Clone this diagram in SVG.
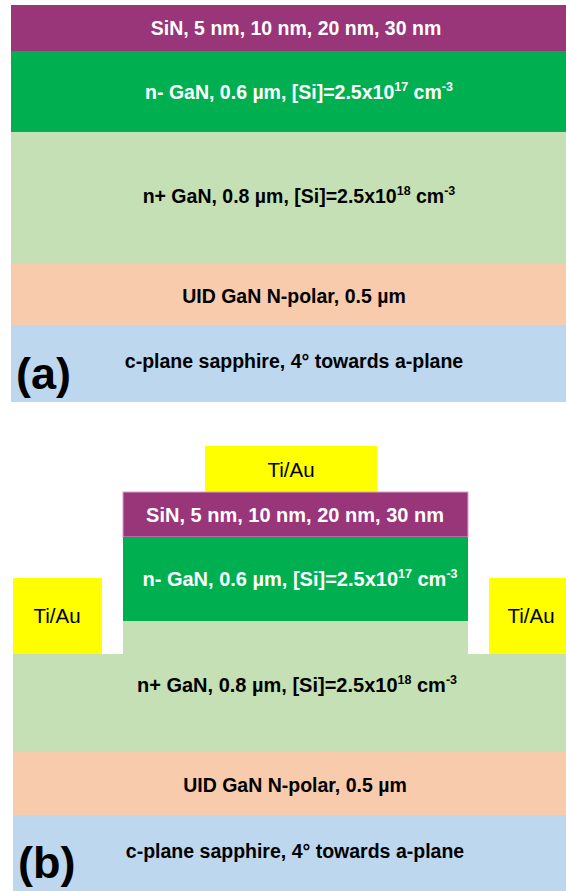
<svg xmlns="http://www.w3.org/2000/svg" width="566" height="891" viewBox="0 0 566 891">
  <style>
    .sin { fill: #993579; }
    .nminus { fill: #00B050; }
    .nplus { fill: #C5E0B4; }
    .uid { fill: #F8CBAD; }
    .sapph { fill: #BDD7EE; }
    .metal { fill: #FFFF00; }
    .lbl { font-family: "Liberation Sans", Arial, sans-serif; font-weight: bold; font-size: 19.5px; text-anchor: middle; }
    .lblb { font-size: 20px; }
    .white { fill: #FFFFFF; }
    .black { fill: #000000; }
    .metal-lbl { font-family: "Liberation Sans", Arial, sans-serif; font-size: 20.5px; text-anchor: middle; fill: #000000; }
    .tag { font-family: "Liberation Sans", Arial, sans-serif; font-weight: bold; font-size: 45px; fill: #000000; }
    .sup { font-size: 12.5px; }
  </style>
  <rect width="566" height="891" fill="#FFFFFF"/>

  <!-- (a) planar epitaxial stack -->
  <g id="a-sin">
    <rect class="sin" x="11" y="5" width="555" height="46"/>
    <text class="lbl white" x="296" y="35">SiN, 5 nm, 10 nm, 20 nm, 30 nm</text>
  </g>
  <g id="a-nminus">
    <rect class="nminus" x="11" y="51" width="555" height="81"/>
    <text class="lbl white" x="299" y="99">n- GaN, 0.6 µm, [Si]=2.5x10<tspan class="sup" dy="-8">17</tspan><tspan dy="8"> cm</tspan><tspan class="sup" dy="-8">-3</tspan></text>
  </g>
  <g id="a-nplus">
    <rect class="nplus" x="11" y="132" width="555" height="132"/>
    <text class="lbl black" x="299" y="203">n+ GaN, 0.8 µm, [Si]=2.5x10<tspan class="sup" dy="-8">18</tspan><tspan dy="8"> cm</tspan><tspan class="sup" dy="-8">-3</tspan></text>
  </g>
  <g id="a-uid">
    <rect class="uid" x="11" y="264" width="555" height="61"/>
    <text class="lbl black" x="294" y="303">UID GaN N-polar, 0.5 µm</text>
  </g>
  <g id="a-sapphire">
    <rect class="sapph" x="11" y="325" width="555" height="77"/>
    <text class="lbl black" x="294" y="368">c-plane sapphire, 4° towards a-plane</text>
    <text class="tag" x="16" y="389">(a)</text>
  </g>

  <!-- (b) mesa device with Ti/Au contacts -->
  <g id="b-gate">
    <rect class="metal" x="205" y="446" width="172" height="46"/>
    <text class="metal-lbl" x="291" y="477">Ti/Au</text>
  </g>
  <g id="b-sin">
    <rect class="sin" x="123" y="492" width="345" height="45" stroke="#D9A3C9" stroke-width="1"/>
    <text class="lbl lblb white" x="295" y="522">SiN, 5 nm, 10 nm, 20 nm, 30 nm</text>
  </g>
  <g id="b-nminus">
    <rect class="nminus" x="123" y="537" width="345" height="84"/>
    <text class="lbl lblb white" x="300" y="586">n- GaN, 0.6 µm, [Si]=2.5x10<tspan class="sup" dy="-8">17</tspan><tspan dy="8"> cm</tspan><tspan class="sup" dy="-8">-3</tspan></text>
  </g>
  <g id="b-nplus">
    <path class="nplus" d="M123 621 H468 V654 H566 V752 H13 V654 H123 Z"/>
    <text class="lbl lblb black" x="297" y="692">n+ GaN, 0.8 µm, [Si]=2.5x10<tspan class="sup" dy="-8">18</tspan><tspan dy="8"> cm</tspan><tspan class="sup" dy="-8">-3</tspan></text>
  </g>
  <g id="b-contact-left">
    <rect class="metal" x="13" y="578" width="89" height="76"/>
    <text class="metal-lbl" x="57" y="623">Ti/Au</text>
  </g>
  <g id="b-contact-right">
    <rect class="metal" x="489" y="578" width="77" height="76"/>
    <text class="metal-lbl" x="531" y="623">Ti/Au</text>
  </g>
  <g id="b-uid">
    <rect class="uid" x="13" y="752" width="553" height="63"/>
    <text class="lbl black" x="295" y="792">UID GaN N-polar, 0.5 µm</text>
  </g>
  <g id="b-sapphire">
    <rect class="sapph" x="13" y="815" width="553" height="76"/>
    <text class="lbl black" x="295" y="858">c-plane sapphire, 4° towards a-plane</text>
    <text class="tag" x="18" y="878">(b)</text>
  </g>

  <g id="connectors"/>
</svg>
